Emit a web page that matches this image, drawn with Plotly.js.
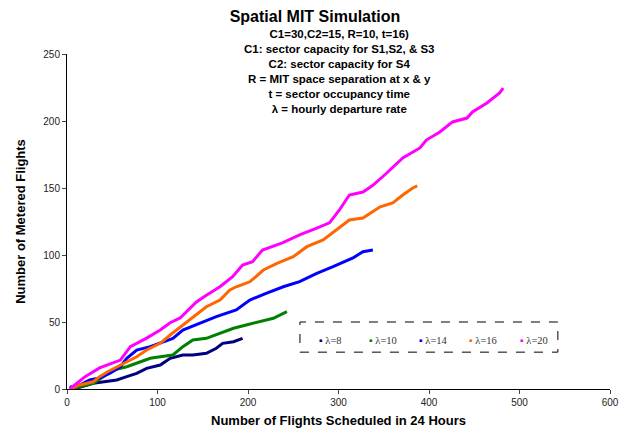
<!DOCTYPE html>
<html><head><meta charset="utf-8">
<script src="https://cdn.plot.ly/plotly-3.0.1.min.js"></script>
<style>html,body{margin:0;padding:0;background:#fff}#chart{width:630px;height:432px}</style>
</head><body><div id="chart"></div>
<script>
const seriesNames = ["λ=8","λ=10","λ=14","λ=16","λ=20"];
const seriesColors = ["#000080","#008000","#0000FF","#FF6600","#FF00FF"];

const x8  = [3,14,29,44,55,66,77,88,103,114,128,139,154,165,172,184,194];
const y8  = [0,1.3,4.3,5.4,6.7,9.2,11.7,15.4,17.9,22.9,25.4,25.4,26.6,30.4,34.1,35.3,37.8];

const x10 = [7,18,29,40,51,66,77,92,103,117,128,139,154,169,184,198,213,228,243];
const y10 = [0.5,2.2,4.3,9.2,14.2,16.6,19.2,22.9,24.1,25.4,31.6,36.6,37.8,41.6,45.3,47.8,50.2,52.8,57.7];

const x14 = [3,14,25,36,48,59,66,77,92,103,117,128,147,165,187,202,220,239,257,276,294,316,327,338];
const y14 = [1.3,3,6.7,8.2,11.9,16.6,22.9,29.1,31.6,34.1,37.8,44,49.3,54,59,66.4,71.4,76.3,80.1,86.3,91.3,97.8,102.5,103.7];

const x16 = [3,14,29,36,45,55,66,77,88,103,114,128,139,154,169,180,187,202,217,232,250,265,283,298,312,327,338,346,360,371,382,387];
const y16 = [0,3,5.4,9.2,12.9,16.6,20.4,24.1,29.1,34.1,40.3,47.8,54,61.4,66.4,73.9,76.3,80,88.8,93.8,98.7,106.2,111.2,118.7,126.1,127.6,132.3,136,138.8,144.8,150,151.5];

const x20 = [3,20,36,59,70,88,103,114,125,143,154,169,183,194,205,216,238,257,276,290,301,312,327,338,353,371,390,397,412,426,442,448,464,478,482];
const y20 = [0,9.2,15.7,21.6,31.6,38,44,49.5,53,65,70,76.3,83.8,92.5,95,103.7,109,115,120,124,133.6,144.8,147,152,161,172.4,179.9,185.8,191.8,199.3,202.2,206.7,213.4,221,224.6];

const xs = [x8,x10,x14,x16,x20];
const ys = [y8,y10,y14,y16,y20];

const xTicks = [0,100,200,300,400,500,600];
const yTicks = [0,50,100,150,200,250];

const titleMain = "Spatial MIT Simulation";
const subtitleLines = ["C1=30,C2=15, R=10, t=16)","C1: sector capacity for S1,S2, & S3","C2: sector capacity for S4","R = MIT space separation at x &amp; y","t = sector occupancy time","λ = hourly departure rate"];

const traces = xs.map((x,i)=>({
  x: x, y: ys[i], type:"scatter", mode:"lines", name: seriesNames[i],
  line:{color: seriesColors[i], width:3}, showlegend:false
}));

const annotations = [{
  xref:"paper", yref:"paper", x:0.5, y:1.083, xanchor:"center", yanchor:"top",
  text: subtitleLines.map(s=>"<b>"+s+"</b>").join("<br>"), showarrow:false,
  font:{family:"Liberation Sans, Arial", size:11.5, color:"#000"}, align:"center"
}];
const legX0 = 0.46, legStep = 0.0925;
seriesNames.forEach((n,i)=>{
  annotations.push({
    xref:"paper", yref:"paper", x: legX0 + i*legStep, y: 0.145, xanchor:"left", yanchor:"middle",
    showarrow:false, text:'<span style="color:'+seriesColors[i]+'">▪</span> '+n,
    font:{family:"Liberation Serif, Times New Roman", size:10.5, color:"#333"}
  });
});

const layout = {
  width:630, height:432, paper_bgcolor:"#fff", plot_bgcolor:"#fff",
  margin:{l:67, r:20, t:54, b:43},
  title:{text:"<b>"+titleMain+"</b>", x:0.5, xanchor:"center", y:0.975, yanchor:"top",
         font:{family:"Liberation Sans, Arial", size:16, color:"#000"}},
  xaxis:{range:[0,600], tickvals:xTicks, ticks:"outside", ticklen:4, showline:true, linecolor:"#000",
         showgrid:false, zeroline:false, tickfont:{family:"Liberation Sans, Arial", size:10, color:"#222"},
         title:{text:"<b>Number of Flights Scheduled in 24 Hours</b>", standoff:8,
                font:{family:"Liberation Sans, Arial", size:13, color:"#000"}}},
  yaxis:{range:[0,250], tickvals:yTicks, ticks:"outside", ticklen:4, showline:true, linecolor:"#000",
         showgrid:false, zeroline:false, tickfont:{family:"Liberation Sans, Arial", size:10, color:"#222"},
         title:{text:"<b>Number of Metered Flights</b>", standoff:14,
                font:{family:"Liberation Sans, Arial", size:13, color:"#000"}}},
  shapes:[{type:"rect", xref:"paper", yref:"paper", x0:0.429, x1:0.904, y0:0.11, y1:0.2,
           line:{color:"#000", width:1, dash:"dash"}, fillcolor:"rgba(0,0,0,0)"}],
  annotations: annotations,
  showlegend:false
};
Plotly.newPlot("chart", traces, layout, {displayModeBar:false, staticPlot:true});
</script></body></html>
